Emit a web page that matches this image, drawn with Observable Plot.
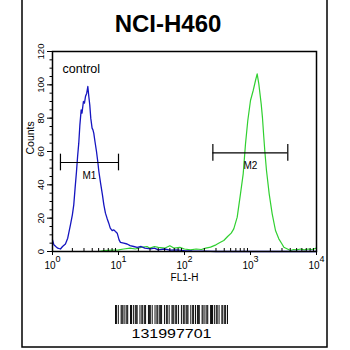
<!DOCTYPE html>
<html>
<head>
<meta charset="utf-8">
<script src="https://cdn.jsdelivr.net/npm/d3@7"></script>
<script src="https://cdn.jsdelivr.net/npm/@observablehq/plot@0.6"></script>
<style>
  body { margin: 0; background: white; }
  svg { display: block; }
</style>
</head>
<body>
<script>
// ---- data ----
const chartTitle = "NCI-H460";
const sampleLabel = "control";
const xLabel = "FL1-H";
const yLabel = "Counts";
const barcodeText = "131997701";

// control histogram (blue): FL1 value, counts
const controlX = [1.0, 1.05, 1.12, 1.2, 1.32, 1.42, 1.57, 1.7, 1.87, 2.0, 2.1, 2.2, 2.31, 2.4, 2.5, 2.6, 2.72, 2.8, 2.94, 3.05, 3.16, 3.3, 3.43, 3.55, 3.67, 3.8, 3.98, 4.1, 4.22, 4.4, 4.64, 4.85, 5.04, 5.35, 5.71, 6.0, 6.34, 6.7, 7.12, 7.5, 8.02, 8.5, 9.0, 9.56, 10.2, 10.7, 12, 13.5, 15, 17, 19.2, 22, 25, 30.5, 35, 40, 50, 60, 75, 100, 130, 200, 300, 10000];
const controlY = [7, 4, 3, 2, 1.5, 3, 4.5, 8, 16, 22, 28, 38, 48, 57, 65, 76, 85, 83, 90, 89, 93, 95, 99, 93, 88, 80, 74, 73, 71, 66, 60, 54, 48, 41, 34, 28, 23, 20, 17, 14, 12.5, 13, 12, 11, 7, 5.5, 5, 4.5, 3.5, 3, 2.5, 3, 2, 1.6, 2, 1, 1.5, 0.8, 1, 0.5, 0.3, 0.2, 0, 0];

// sample histogram (green)
const sampleX = [1, 5, 6, 8, 10, 12, 15, 18, 22, 27, 30, 35, 40, 50, 60, 70, 85, 100, 123, 150, 180, 210, 248, 300, 350, 394, 450, 510, 558, 629, 705, 775, 840, 910, 1000, 1099, 1191, 1262, 1336, 1452, 1520, 1591, 1650, 1747, 1919, 2131, 2392, 2686, 3000, 3198, 4036, 4500, 5000, 5725, 6500, 7500, 8500, 10000];
const sampleY = [0, 0, 0.5, 0.8, 1, 1.5, 2, 1.5, 2.5, 3, 2, 3, 2.5, 2, 3.5, 2, 2.5, 1.5, 1, 1.5, 1.2, 2, 2.6, 4, 5.5, 6.6, 9, 11, 13.6, 20.6, 34.6, 46.6, 64.6, 78.6, 90.6, 96.6, 102.6, 106.6, 100.6, 88.6, 80, 68.6, 60, 48.6, 34.6, 22.6, 12.6, 7.6, 4.5, 2.6, 0.6, 1.2, 1, 1.5, 1, 1.5, 1.2, 2];

// gates
const markerNames = ["M1", "M2"];
const markerStart = [1.32, 269];
const markerEnd = [10, 3674];
const markerLevel = [53.4, 59.2];

// ticks
const yMajorTicks = [0, 20, 40, 60, 80, 100, 120];
const yMinorTicks = [0, 5, 10, 15, 20, 25, 30, 35, 40, 45, 50, 55, 60, 65, 70, 75, 80, 85, 90, 95, 100, 105, 110, 115, 120];
const xMajorTicks = [1, 10, 100, 1000, 10000];
const xTickExponents = ["0", "1", "2", "3", "4"];
const xMinorTicks = [1, 10, 100, 1000].flatMap(d => [2, 3, 4, 5, 6, 7, 8, 9].map(k => k * d));

// barcode modules (decorative)
const barcodePattern = "110100111010110011010111001011011001110100101101110010110100111011010010110111001011010111001101011001110101101001101101";

// ---- build tables ----
const control = controlX.map((x, i) => ({x, y: controlY[i]}));
const sample = sampleX.map((x, i) => ({x, y: sampleY[i]}));
const markers = markerNames.map((name, i) => ({name, x1: markerStart[i], x2: markerEnd[i], y: markerLevel[i], mid: Math.sqrt(markerStart[i] * markerEnd[i])}));
const markerEnds = markers.flatMap(m => [{x: m.x1, y: m.y}, {x: m.x2, y: m.y}]);

const blue = "#1515c0";
const green = "#30d030";

const chart = Plot.plot({
  width: 350,
  height: 350,
  marginLeft: 52,
  marginRight: 34,
  marginTop: 51,
  marginBottom: 99,
  x: {type: "log", domain: [1, 10000], axis: null},
  y: {domain: [0, 120], axis: null},
  style: {fontFamily: "Arial, 'Liberation Sans', sans-serif", background: "white", color: "black"},
  marks: [
    Plot.line(sample, {x: "x", y: "y", stroke: green, strokeWidth: 1.2}),
    Plot.line(control, {x: "x", y: "y", stroke: blue, strokeWidth: 1.3}),
    Plot.frame({stroke: "black", strokeWidth: 1.5}),
    Plot.axisY({ticks: yMinorTicks, tickSize: 2.5, tickFormat: () => "", label: null}),
    Plot.axisY({ticks: yMajorTicks, tickSize: 5, tickFormat: () => "", label: null}),
    Plot.text(yMajorTicks, {x: 1, y: d => d, text: d => String(d), rotate: -90, dx: -12, fontSize: 9.5}),
    Plot.text([yLabel], {frameAnchor: "left", dx: -22, dy: 3, rotate: -90, fontSize: 10.5}),
    Plot.axisX({ticks: xMajorTicks, tickSize: 4, tickFormat: () => "", label: null}),
    Plot.ruleX(xMinorTicks, {x: d => d, y1: 0, y2: 1.8, stroke: "black"}),
    Plot.text(xMajorTicks, {x: d => d, y: 0, text: () => "10", dx: -2.5, dy: 14.5, fontSize: 10}),
    Plot.text(xMajorTicks, {x: d => d, y: 0, text: (d, i) => xTickExponents[i], dx: 5.5, dy: 8, fontSize: 9}),
    Plot.text([xLabel], {frameAnchor: "bottom", dy: 29.5, fontSize: 10}),
    Plot.text([sampleLabel], {x: 1, y: 120, dx: 10, dy: 17.7, textAnchor: "start", fontSize: 12.5}),
    Plot.ruleY(markers, {x1: "x1", x2: "x2", y: "y", stroke: "black", strokeWidth: 1.2}),
    Plot.ruleX(markerEnds, {x: "x", y1: d => d.y - 5, y2: d => d.y + 5, stroke: "black", strokeWidth: 1.2}),
    Plot.text(markers, {x: "mid", y: "y", text: "name", dy: 13, fontSize: 10}),
    Plot.text([chartTitle], {frameAnchor: "top", dx: -16.5, dy: -37, fontSize: 24, fontWeight: "bold"})
  ]
});

document.body.appendChild(chart);

// decorations: outer panel border and barcode
const svg = d3.select(chart);
svg.append("rect")
  .attr("x", 22).attr("y", -2).attr("width", 305).attr("height", 349)
  .attr("fill", "none").attr("stroke", "black").attr("stroke-width", 1.5);

const bcX = 115, bcW = 113, bcY = 305, bcH = 19;
const mod = bcW / barcodePattern.length;
const bc = svg.append("g");
barcodePattern.split("").forEach((c, i) => {
  if (c === "1") bc.append("rect").attr("x", bcX + i * mod).attr("y", bcY).attr("width", mod).attr("height", bcH).attr("fill", "black");
});
svg.append("text")
  .attr("x", 131.5).attr("y", 337.5)
  .attr("text-anchor", "start")
  .attr("textLength", 80).attr("lengthAdjust", "spacingAndGlyphs")
  .attr("font-family", "Arial, 'Liberation Sans', sans-serif")
  .attr("font-size", 12.5)
  .text(barcodeText);
</script>
</body>
</html>
